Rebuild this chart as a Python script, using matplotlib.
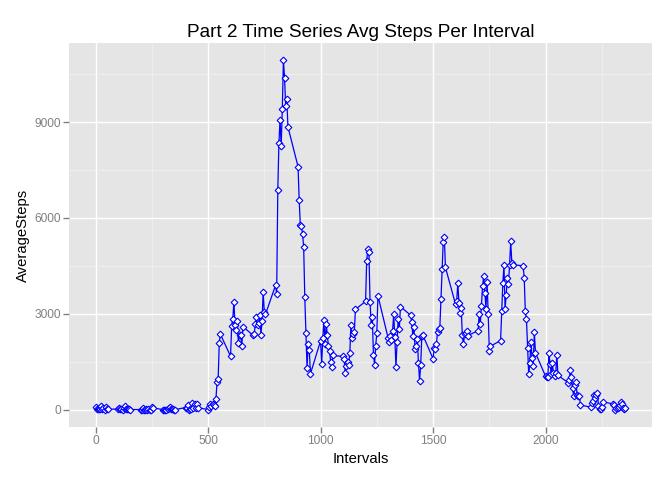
import numpy as np
import matplotlib
matplotlib.use("Agg")
import matplotlib.pyplot as plt

# ------------------------------------------------------------------
# Data: total steps per 5-minute interval (interval coded as HHMM)
# ------------------------------------------------------------------
intervals = [h * 100 + m for h in range(24) for m in range(0, 60, 5)]

steps = [
    91, 18, 7, 8, 4, 111, 28, 46, 0, 78, 16, 7,                       # 00h
    17, 36, 8, 18, 0, 59, 97, 9, 9, 20, 14, 0,                         # 01h
    0, 0, 60, 0, 0, 7, 0, 12, 0, 0, 82, 50,                            # 02h
    0, 0, 0, 0, 11, 33, 86, 31, 26, 4, 0, 0,                           # 03h
    63, 50, 136, 0, 18, 19, 218, 35, 185, 44, 165, 59,                 # 04h
    0, 83, 159, 119, 176, 157, 111, 321, 849, 972, 2091, 2358,         # 05h
    1669, 2611, 2850, 3363, 2648, 2495, 2764, 2085, 2333, 2341, 1980, 2599,   # 06h
    2322, 2352, 2677, 2889, 2646, 2702, 2951, 2349, 2770, 3686, 3066, 2976,   # 07h
    3889, 3615, 6860, 8349, 9071, 8236, 9397, 10927, 10384, 9517, 9720, 8852, # 08h
    7603, 6574, 5783, 5730, 5497, 5086, 3509, 2397, 1314, 2054, 1854, 1116,   # 09h
    2150, 1430, 2248, 2791, 2063, 2692, 2347, 1983, 1839, 1502, 1330, 1693,   # 10h
    1662, 1573, 1130, 1354, 1504, 1403, 1772, 2649, 2228, 2364, 2440, 3137,   # 11h
    3385, 4648, 5027, 4917, 3360, 2659, 2887, 1718, 1406, 2000, 2388, 3566,   # 12h
    2244, 2114, 2293, 2172, 2451, 2991, 2266, 1332, 2118, 2838, 2508, 3223,   # 13h
    2955, 2754, 2310, 2581, 1880, 1990, 2218, 1458, 907, 1382, 2312, 2320,    # 14h
    1591, 1912, 1881, 2059, 2436, 2531, 2551, 3462, 4394, 5229, 5412, 4450,   # 15h
    3293, 3399, 3951, 3348, 3016, 3168, 2325, 2044, 2367, 2409, 2449, 2315,   # 16h
    2471, 2984, 2688, 3245, 3854, 4184, 3654, 3162, 3980, 2995, 1843, 1985,   # 17h
    2156, 3075, 3959, 4522, 3141, 3592, 4118, 3935, 4523, 5271, 4589, 4537,   # 18h
    4498, 4125, 3076, 2828, 1925, 1098, 1452, 2121, 1601, 1354, 2420, 1777,   # 19h
    1040, 1008, 1025, 1767, 1421, 1122, 1447, 1131, 1036, 1130, 1712, 1068,   # 20h
    845, 913, 1243, 1020, 660, 425, 777, 864, 460, 413, 431, 139,             # 21h
    77, 195, 255, 451, 375, 461, 517, 117, 17, 6, 85, 244,                    # 22h
    175, 151, 0, 44, 51, 84, 138, 249, 175, 34, 12, 57,                       # 23h
]

x_ticks = [0, 500, 1000, 1500, 2000]
y_ticks = [0, 3000, 6000, 9000]

# ------------------------------------------------------------------
# Plot (ggplot2 grey theme look)
# ------------------------------------------------------------------
plt.rcParams['font.family'] = ['Liberation Sans', 'DejaVu Sans']

fig = plt.figure(figsize=(6.72, 4.8), dpi=100)
ax = fig.add_axes([0.1027, 0.1104, 0.8675, 0.8000])

ax.set_facecolor('#E5E5E5')
for s in ax.spines.values():
    s.set_visible(False)

x = np.array(intervals)
y = np.array(steps)
xpad = 0.05 * (x.max() - x.min())
ypad = 0.05 * (y.max() - y.min())
ax.set_xlim(x.min() - xpad, x.max() + xpad)
ax.set_ylim(y.min() - ypad, y.max() + ypad)

ax.set_xticks(x_ticks)
ax.set_yticks(y_ticks)
ax.set_xticks([250, 750, 1250, 1750, 2250], minor=True)
ax.set_yticks([1500, 4500, 7500, 10500], minor=True)
ax.grid(which='major', color='white', linewidth=1.0)
ax.grid(which='minor', color='#F2F2F2', linewidth=0.5)
ax.set_axisbelow(True)

ax.tick_params(which='major', length=4, width=1.0, color='#7F7F7F',
               labelcolor='#7F7F7F', labelsize=8.6, pad=2)
ax.tick_params(which='minor', length=0)

ax.plot(x, y, color='blue', linewidth=0.9,
        marker='D', markersize=3.4, markerfacecolor='white',
        markeredgecolor='blue', markeredgewidth=0.8)

ax.set_title('Part 2 Time Series Avg Steps Per Interval', fontsize=13.7, pad=4)
ax.set_xlabel('Intervals', fontsize=10.7, labelpad=3)
ax.set_ylabel('AverageSteps', fontsize=10.7, labelpad=3)

fig.savefig('out.png', dpi=100)
